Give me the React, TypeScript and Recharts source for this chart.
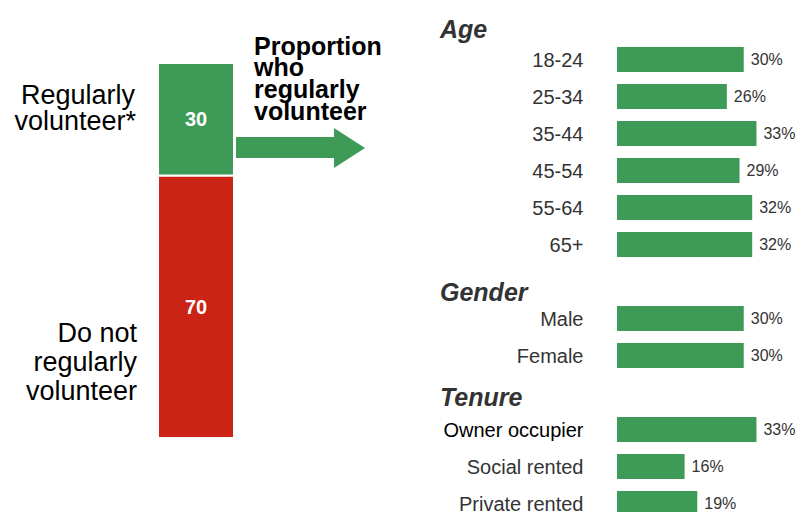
import React from 'react';
import { BarChart, Bar, XAxis, YAxis, LabelList } from 'recharts';

// overall split (left stacked column)
const overallGroups = ['Regularly volunteer*', 'Do not regularly volunteer'];
const overallShares = [30, 70];

// breakdown rows (right chart); header rows carry no value
const categories = [
    'Age', '18-24', '25-34', '35-44', '45-54', '55-64', '65+',
    'Gender', 'Male', 'Female',
    'Tenure', 'Owner occupier', 'Social rented', 'Private rented',
];
const shares = [null, 30, 26, 33, 29, 32, 32, null, 30, 30, null, 33, 16, 19];
const groupHeaders = ['Age', 'Gender', 'Tenure'];

const GREEN = '#3d9a57';
const RED = '#cc2317';
const FONT = '"Liberation Sans", Arial, sans-serif';

const overall = [{ name: 'All', regular: overallShares[0], not: overallShares[1] }];
const rows = categories.map((name, i) => (shares[i] == null ? { name } : { name, share: shares[i] }));

// headers sit a bit lower than the row centre
const headerDy: { [key: string]: number } = { Age: 15, Gender: 19, Tenure: 13 };

const GroupTick = (props: any) => {
    const { y, payload } = props;
    const name = payload.value;
    if (groupHeaders.includes(name)) {
        return (
            <text x={20} y={y + headerDy[name]} fontSize={25} fontWeight="bold" fontStyle="italic" fill="#333" fontFamily={FONT}>
                {name}
            </text>
        );
    }
    return (
        <text x={163.5} y={y + 7} textAnchor="end" fontSize={20} fill={name === 'Owner occupier' ? '#000' : '#333'} fontFamily={FONT}>
            {name}
        </text>
    );
};

export default function App() {
    return (
        <div style={{ position: 'fixed', left: 0, top: 0, width: 799, height: 512, overflow: 'hidden', background: '#fff', fontFamily: FONT }}>
            <svg width={799} height={512} style={{ position: 'absolute', left: 0, top: 0 }}>
                <g fontFamily={FONT} fontSize={27} fill="#000" textAnchor="end">
                    <text x={135} y={104}>Regularly</text>
                    <text x={136} y={130}>volunteer*</text>
                    <text x={137} y={342}>Do not</text>
                    <text x={137} y={371}>regularly</text>
                    <text x={137} y={400}>volunteer</text>
                </g>
                <g fontFamily={FONT} fontSize={25} fontWeight="bold" fill="#000">
                    <text x={254} y={55}>Proportion</text>
                    <text x={254} y={76}>who</text>
                    <text x={254} y={98}>regularly</text>
                    <text x={254} y={120}>volunteer</text>
                </g>
                <polygon points="236,137 334,137 334,128 365,148 334,168 334,158 236,158" fill={GREEN} />
            </svg>

            <div style={{ position: 'absolute', left: 150, top: 63 }}>
                <BarChart width={92} height={375} data={overall} margin={{ top: 0, right: 0, bottom: 0, left: 0 }} barCategoryGap={0}>
                    <XAxis dataKey="name" hide />
                    <YAxis hide domain={[0, 100]} />
                    <Bar dataKey="not" name={overallGroups[1]} stackId="a" fill={RED} stroke="#fff" strokeWidth={2} barSize={76} isAnimationActive={false}>
                        <LabelList dataKey="not" position="center" fill="#fff" fontSize={20} fontWeight="bold" fontFamily={FONT} />
                    </Bar>
                    <Bar dataKey="regular" name={overallGroups[0]} stackId="a" fill={GREEN} stroke="#fff" strokeWidth={2} barSize={76} isAnimationActive={false}>
                        <LabelList dataKey="regular" position="center" fill="#fff" fontSize={20} fontWeight="bold" fontFamily={FONT} />
                    </Bar>
                </BarChart>
            </div>

            <div style={{ position: 'absolute', left: 420, top: 0 }}>
                <BarChart width={379} height={522} layout="vertical" data={rows} margin={{ top: 4, right: 13, bottom: 0, left: 0 }} barCategoryGap={0}>
                    <XAxis type="number" domain={[0, 40]} hide />
                    <YAxis type="category" dataKey="name" width={197} axisLine={false} tickLine={false} interval={0} tick={(p: any) => <GroupTick {...p} />} />
                    <Bar dataKey="share" fill={GREEN} barSize={25} isAnimationActive={false}>
                        <LabelList
                            dataKey="share"
                            position="right"
                            offset={7}
                            formatter={(v: any) => (v == null ? '' : `${v}%`)}
                            fill="#333"
                            fontSize={16}
                            fontFamily={FONT}
                        />
                    </Bar>
                </BarChart>
            </div>
        </div>
    );
}
